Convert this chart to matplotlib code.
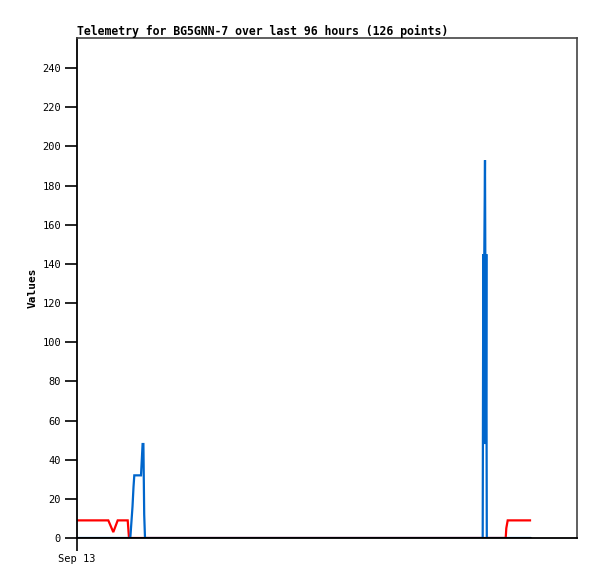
import matplotlib
matplotlib.use("Agg")
import matplotlib.pyplot as plt

# pixel-derived time (hours since start of window)
PXH = 4.708
def h(px):
    return (px - 77) / PXH

red_px = [77, 108.3, 113.3, 117.7, 127.7, 129, 505.7, 506.3, 507.7, 530]
red_val = [9, 9, 3, 9, 9, 0, 0, 5, 9, 9]

blue_px = [77, 130.3, 132.5, 133.5, 134.3, 141, 141.6, 142.6, 143.4, 144.2, 145,
           482.7, 482.9, 483.3, 483.8, 484.3, 485.0, 485.3, 485.8, 486.3, 486.6, 486.8, 530]
blue_val = [0, 0, 16, 26, 32, 32, 38, 48, 48, 12, 0,
            0, 48, 145, 48, 145, 193, 145, 48, 145, 48, 0, 0]

zero_px = [77, 530]
zero_val = [0, 0]

yticks = list(range(0, 241, 20))
xtick_label = "Sep 13"
title = "Telemetry for BG5GNN-7 over last 96 hours (126 points)"

fig = plt.figure(figsize=(5.97, 5.79), dpi=100)
ax = fig.add_axes([77/597, 41/579, 500/597, 500/579])

ax.plot([h(p) for p in red_px], red_val, color="#ff0000", lw=1.6, solid_joinstyle="miter")
ax.plot([h(p) for p in blue_px], blue_val, color="#0066cc", lw=1.6, solid_joinstyle="miter")
ax.plot([h(p) for p in zero_px], zero_val, color="black", lw=1.8)

ax.set_xlim(0, 500 / PXH)
ax.set_ylim(0, 255.4)

ax.set_yticks(yticks)
ax.set_yticklabels([str(t) for t in yticks], family="DejaVu Sans Mono", fontsize=7.5)
ax.set_xticks([0])
ax.set_xticklabels([xtick_label], family="DejaVu Sans Mono", fontsize=7.5)
ax.tick_params(axis="both", direction="out", length=9, width=1.2, color="black", pad=2.5)

for side in ["left", "bottom"]:
    ax.spines[side].set_color("black")
    ax.spines[side].set_linewidth(1.3)
for side in ["top", "right"]:
    ax.spines[side].set_color("#444444")
    ax.spines[side].set_linewidth(1.2)

ax.set_ylabel("Values", family="DejaVu Sans Mono", fontsize=8, fontweight="bold")
ax.yaxis.set_label_coords(-0.078, 0.5)
fig.text(77/597, 1 - 31/579, title, family="DejaVu Sans Mono", fontsize=8.3,
         fontweight="bold", ha="left", va="center")

fig.savefig("out.png", dpi=100)
